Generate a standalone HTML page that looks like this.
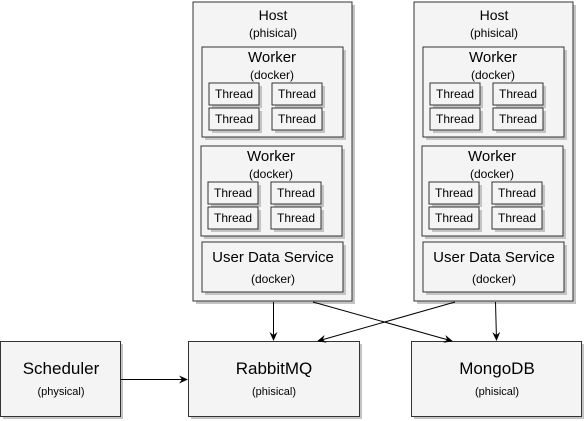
<!DOCTYPE html>
<html><head><style>body{margin:0;background:#fff}svg{display:block}</style></head><body>
<svg width="585" height="421" xmlns="http://www.w3.org/2000/svg" font-family="Liberation Sans, sans-serif" text-anchor="middle">
<defs>
<marker id="a" markerWidth="10" markerHeight="10" refX="8" refY="4" orient="auto" markerUnits="userSpaceOnUse"><path d="M0,0 L9,4 L0,8 L3,4 z" fill="#000"/></marker>
<g id="thr"><rect x="3" y="3" width="50" height="22" fill="#c4c4c4"/><rect x="0" y="0" width="50" height="22" fill="#f4f4f4" stroke="#333"/><text x="25" y="15" font-size="12">Thread</text></g>
<g id="wk">
<rect x="3" y="3" width="141" height="90" fill="#c4c4c4"/><rect x="0" y="0" width="141" height="90" fill="#f4f4f4" stroke="#333"/>
<text x="70" y="15" font-size="15">Worker</text><text x="70" y="32" font-size="12">(docker)</text>
<use href="#thr" x="7" y="36"/><use href="#thr" x="70" y="36"/><use href="#thr" x="7" y="61"/><use href="#thr" x="70" y="61"/>
</g>
<g id="host">
<rect x="3" y="3" width="159" height="299" fill="#c4c4c4"/><rect x="0" y="0" width="159" height="299" fill="#f4f4f4" stroke="#333"/>
<text x="80" y="18" font-size="14">Host</text><text x="80" y="35" font-size="12">(phisical)</text>
<use href="#wk" x="9" y="45"/><use href="#wk" x="8" y="144"/>
<rect x="12" y="243" width="141" height="50" fill="#c4c4c4"/><rect x="9" y="240" width="141" height="50" fill="#f4f4f4" stroke="#333"/>
<text x="80" y="260" font-size="15">User Data Service</text><text x="80" y="281" font-size="12">(docker)</text>
</g>
</defs>
<use href="#host" x="193" y="2"/><use href="#host" x="414" y="2"/>
<rect x="3" y="344" width="120" height="75" fill="#c4c4c4"/><rect x="0.5" y="341.5" width="120" height="75" fill="#f4f4f4" stroke="#333"/>
<text x="61" y="374" font-size="17">Scheduler</text><text x="61" y="395" font-size="11">(physical)</text>
<rect x="191" y="344" width="171" height="75" fill="#c4c4c4"/><rect x="188.5" y="341.5" width="171" height="75" fill="#f4f4f4" stroke="#333"/>
<text x="274" y="374" font-size="17">RabbitMQ</text><text x="274" y="395" font-size="11">(phisical)</text>
<rect x="414" y="344" width="170" height="75" fill="#c4c4c4"/><rect x="411.5" y="341.5" width="170" height="75" fill="#f4f4f4" stroke="#333"/>
<text x="497" y="374" font-size="17">MongoDB</text><text x="497" y="395" font-size="11">(phisical)</text>
<g stroke="#000" stroke-width="1" marker-end="url(#a)" fill="none">
<line x1="273.5" y1="302" x2="273.5" y2="340"/>
<line x1="313" y1="302" x2="452" y2="341"/>
<line x1="455" y1="302" x2="318" y2="341"/>
<line x1="495.5" y1="302" x2="496.5" y2="340"/>
<line x1="121" y1="379.5" x2="187" y2="379.5"/>
</g>
</svg>
</body></html>
